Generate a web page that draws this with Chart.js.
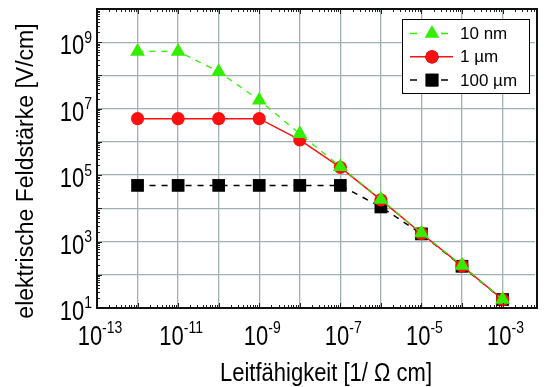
<!DOCTYPE html>
<html>
<head>
<meta charset="utf-8">
<script src="https://cdn.jsdelivr.net/npm/chart.js@4.4.1/dist/chart.umd.min.js"></script>
<style>
  html, body { margin: 0; padding: 0; background: #fff; }
  #wrap { width: 544px; height: 387px; }
</style>
</head>
<body>
<div id="wrap"><canvas id="feldChart" width="544" height="387"></canvas></div>
<script>
// Leitfähigkeit [1/(Ohm cm)]
const leitfaehigkeit = [1e-12, 1e-11, 1e-10, 1e-9, 1e-8, 1e-7, 1e-6, 1e-5, 1e-4, 1e-3];

// elektrische Feldstärke [V/cm] je Schichtdicke
const feld10nm  = [5.3e8, 5.3e8, 1.3e8, 1.8e7, 1.75e6, 1.8e5, 1.85e4, 1.8e3, 190, 18];
const feld1um   = [5e6, 5e6, 5e6, 5e6, 1.15e6, 1.7e5, 1.8e4, 1.75e3, 185, 18];
const feld100um = [4.9e4, 4.9e4, 4.9e4, 4.9e4, 4.9e4, 4.9e4, 1.1e4, 1.7e3, 180, 18];

const serienNamen = ['10 nm', '1 µm', '100 µm'];

// Dekaden für Gitter und Beschriftung
const xDekaden = [-13, -12, -11, -10, -9, -8, -7, -6, -5, -4, -3];
const xBeschriftung = [-13, -11, -9, -7, -5, -3];
const yDekaden = [1, 2, 3, 4, 5, 6, 7, 8, 9, 10];
const yBeschriftung = [1, 3, 5, 7, 9];

const xTitel = 'Leitfähigkeit [1/ Ω cm]';
const yTitel = 'elektrische Feldstärke [V/cm]';

const gruen = '#33ee00';
const rot = '#ff1010';
const schwarz = '#000000';
const gitter = '#9fb1b1';

function punkte(werte) {
    return leitfaehigkeit.map((x, i) => ({ x: x, y: werte[i] }));
}

// 10 mit hochgestelltem Exponenten zeichnen
function zehnHoch(ctx, exp, x, baseline, align) {
    const haupt = '10';
    const hoch = String(exp);
    ctx.font = '22px "Liberation Sans", Arial, sans-serif';
    const wHaupt = ctx.measureText(haupt).width;
    ctx.font = '14px "Liberation Sans", Arial, sans-serif';
    const wHoch = ctx.measureText(hoch).width;
    let start;
    if (align === 'right') start = x - wHaupt - wHoch;
    else start = x - (wHaupt + wHoch) / 2;

    ctx.save();
    ctx.fillStyle = '#000';
    ctx.textAlign = 'left';
    ctx.textBaseline = 'alphabetic';
    ctx.translate(start, baseline);
    ctx.scale(1, 1.22);
    ctx.font = '22px "Liberation Sans", Arial, sans-serif';
    ctx.fillText(haupt, 0, 0);
    ctx.font = '14px "Liberation Sans", Arial, sans-serif';
    ctx.fillText(hoch, wHaupt, -9.5);
    ctx.restore();
}

const achsenDeko = {
    id: 'achsenDeko',
    afterDraw(chart) {
        const ctx = chart.ctx;
        const { left, right, top, bottom } = chart.chartArea;
        const xs = chart.scales.x;
        const ys = chart.scales.y;

        ctx.save();
        // kleine Teilstriche innen
        ctx.strokeStyle = '#222';
        ctx.lineWidth = 1;
        ctx.beginPath();
        xDekaden.forEach(e => {
            for (let m = 1; m < 10; m++) {
                const v = m * Math.pow(10, e);
                if (v > xs.max) break;
                const px = Math.round(xs.getPixelForValue(v)) + 0.5;
                const len = m === 1 ? 5 : 3;
                ctx.moveTo(px, bottom); ctx.lineTo(px, bottom - len);
                ctx.moveTo(px, top); ctx.lineTo(px, top + len);
            }
        });
        yDekaden.forEach(e => {
            for (let m = 1; m < 10; m++) {
                const v = m * Math.pow(10, e);
                if (v > ys.max) break;
                const py = Math.round(ys.getPixelForValue(v)) + 0.5;
                const len = m === 1 ? 5 : 3;
                ctx.moveTo(left, py); ctx.lineTo(left + len, py);
            }
        });
        ctx.stroke();

        // Rahmen
        ctx.strokeStyle = '#111';
        ctx.lineWidth = 2;
        ctx.strokeRect(left, top, right - left + 2, bottom - top);
        ctx.restore();

        // Achsenbeschriftung
        xBeschriftung.forEach(e => {
            zehnHoch(ctx, e, xs.getPixelForValue(Math.pow(10, e)) + 3, 345, 'center');
        });
        yBeschriftung.forEach(e => {
            zehnHoch(ctx, e, left - 5, ys.getPixelForValue(Math.pow(10, e)) + 12, 'right');
        });

        ctx.save();
        ctx.fillStyle = '#000';
        ctx.textAlign = 'center';
        ctx.textBaseline = 'alphabetic';
        ctx.font = '22px "Liberation Sans", Arial, sans-serif';
        ctx.translate(326, 381);
        ctx.scale(1, 1.2);
        ctx.fillText(xTitel, 0, 0);
        ctx.restore();

        ctx.save();
        ctx.fillStyle = '#000';
        ctx.textAlign = 'center';
        ctx.textBaseline = 'alphabetic';
        ctx.font = '23px "Liberation Sans", Arial, sans-serif';
        ctx.translate(33, 171);
        ctx.rotate(-Math.PI / 2);
        ctx.fillText(yTitel, 0, 0);
        ctx.restore();
    }
};

// Legende oben rechts im Diagramm
const legendeBox = {
    id: 'legendeBox',
    afterDraw(chart) {
        const ctx = chart.ctx;
        const bx = 402, by = 19, bw = 127, bh = 74;
        ctx.save();
        ctx.fillStyle = '#fff';
        ctx.fillRect(bx, by, bw, bh);
        ctx.strokeStyle = '#000';
        ctx.lineWidth = 1;
        ctx.strokeRect(bx + 0.5, by + 0.5, bw, bh);

        chart.data.datasets.forEach((ds, i) => {
            const y = by + 14.5 + i * 23.3;
            const mx = 432;
            ctx.strokeStyle = ds.borderColor;
            ctx.lineWidth = ds.borderWidth;
            ctx.beginPath();
            if (ds.borderDash && ds.borderDash.length) {
                ctx.moveTo(410, y); ctx.lineTo(417, y);
                ctx.moveTo(441, y); ctx.lineTo(448, y);
            } else {
                ctx.moveTo(410, y); ctx.lineTo(453, y);
            }
            ctx.stroke();
            Chart.helpers.drawPoint(ctx, {
                pointStyle: ds.pointStyle,
                radius: ds.pointRadius,
                rotation: 0,
                borderWidth: 0
            }, mx, y);
            ctx.fillStyle = ds.backgroundColor;
            ctx.fill();

            ctx.fillStyle = '#000';
            ctx.font = '17px "Liberation Sans", Arial, sans-serif';
            ctx.textAlign = 'left';
            ctx.textBaseline = 'middle';
            ctx.fillText(ds.label, 460, y + 1);
        });
        ctx.restore();
    }
};

const datasets = [
    {
        label: serienNamen[0],
        data: punkte(feld10nm),
        borderColor: gruen,
        backgroundColor: gruen,
        borderWidth: 1.3,
        borderDash: [6, 6],
        pointStyle: 'triangle',
        pointRadius: 8.5,
        pointBorderWidth: 0
    },
    {
        label: serienNamen[1],
        data: punkte(feld1um),
        borderColor: rot,
        backgroundColor: rot,
        borderWidth: 1.5,
        pointStyle: 'circle',
        pointRadius: 6.6,
        pointBorderWidth: 0
    },
    {
        label: serienNamen[2],
        data: punkte(feld100um),
        borderColor: schwarz,
        backgroundColor: schwarz,
        borderWidth: 1.5,
        borderDash: [6, 6],
        pointStyle: 'rect',
        pointRadius: 9,
        pointBorderWidth: 0
    }
];

const config = {
    type: 'line',
    data: { datasets: datasets },
    options: {
        responsive: false,
        animation: false,
        devicePixelRatio: 1,
        layout: { padding: { top: 7, left: 0, right: 0, bottom: 0 } },
        elements: { line: { tension: 0 } },
        plugins: {
            legend: { display: false },
            tooltip: { enabled: false }
        },
        scales: {
            x: {
                type: 'logarithmic',
                min: 1e-13,
                max: Math.pow(10, -2.2),
                afterBuildTicks: s => { s.ticks = xDekaden.map(e => ({ value: Math.pow(10, e) })); },
                afterFit: s => { s.height = 79; },
                ticks: { display: false },
                grid: { color: gitter, lineWidth: 1.3, drawTicks: false },
                border: { display: false }
            },
            y: {
                type: 'logarithmic',
                min: 10,
                max: 1e10,
                afterBuildTicks: s => { s.ticks = yDekaden.map(e => ({ value: Math.pow(10, e) })); },
                afterFit: s => { s.width = 97; },
                ticks: { display: false },
                grid: { color: gitter, lineWidth: 1.3, drawTicks: false },
                border: { display: false }
            }
        }
    },
    plugins: [achsenDeko, legendeBox]
};

const feldChart = new Chart(document.getElementById('feldChart'), config);
</script>
</body>
</html>
